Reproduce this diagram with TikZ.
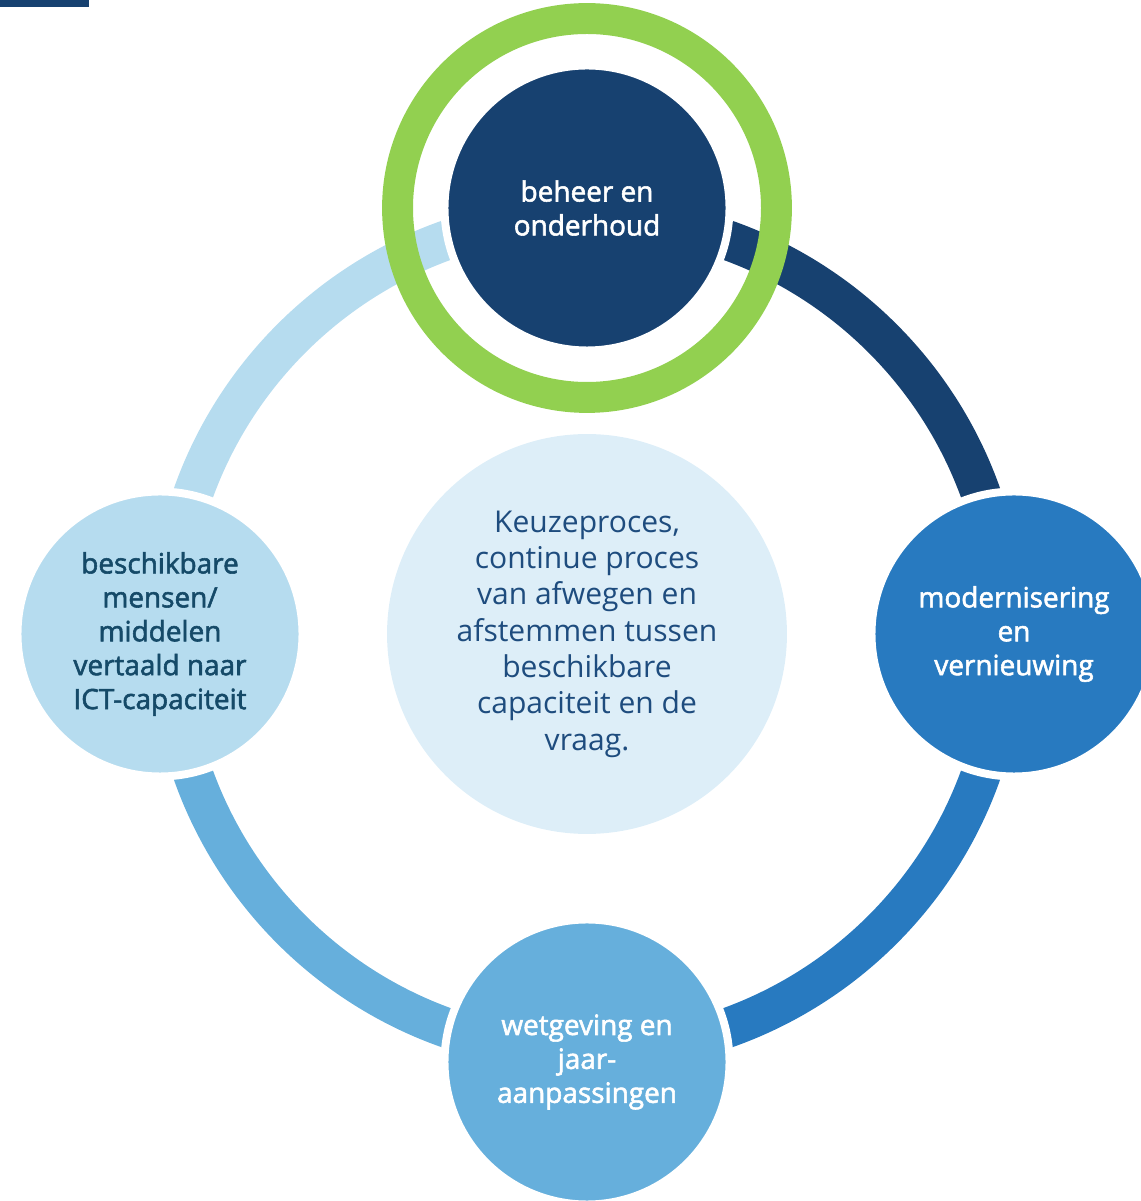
\documentclass[tikz,border=0pt]{standalone}
\usepackage{fontspec}
\setmainfont{Open Sans}
\newfontfamily\labelfont[FakeBold=2]{Open Sans}
\usepackage{tikz}
\usetikzlibrary{positioning}
\definecolor{navy}{RGB}{23,65,112}
\definecolor{midblue}{RGB}{40,122,192}
\definecolor{skyblue}{RGB}{102,175,220}
\definecolor{paleblue}{RGB}{182,220,239}
\definecolor{centreblue}{RGB}{221,238,248}
\definecolor{limegreen}{RGB}{146,208,80}
\definecolor{keuzetext}{RGB}{30,76,126}
\definecolor{mensentext}{RGB}{21,74,104}

\begin{document}
\begin{tikzpicture}[x=0.02cm, y=0.02cm,
    stage/.style={circle, minimum size=5.7cm, inner sep=0pt, draw=white, line width=4.5pt,
      align=center, text=white, font=\labelfont\fontsize{15.9}{19.3}\selectfont},
    ringarc/.style={line width=22.7pt},
    greenring/.style={circle, minimum size=7.58cm, inner sep=0pt, draw=limegreen, line width=17.6pt}]
      \clip (0,0) rectangle (1141,1201);
      \fill[navy] (0,1194) rectangle (89,1201);

      \node[circle, fill=centreblue, minimum size=8cm, inner sep=0pt, align=center, text=keuzetext,
        font=\fontsize{17.1}{20.7}\selectfont] (keuze) at (587,567)
        {Keuzeproces,\\continue proces\\van afwegen en\\afstemmen tussen\\beschikbare\\capaciteit en de\\vraag.};

      % ring between the stages
      \draw[ringarc, paleblue] (keuze.center) ++(90:418) arc[start angle=90, end angle=180, radius=418];
      \draw[ringarc, navy] (keuze.center) ++(0:418) arc[start angle=0, end angle=90, radius=418];
      \draw[ringarc, midblue] (keuze.center) ++(-90:418) arc[start angle=-90, end angle=0, radius=418];
      \draw[ringarc, skyblue] (keuze.center) ++(180:418) arc[start angle=180, end angle=270, radius=418];

      \node[greenring] (focus) at (587,993) {};

      \node[stage, fill=navy] (beheer) at (587,993) {beheer en\\onderhoud};
      \node[stage, fill=midblue] (modern) at (1014,567) {modernisering\\en\\vernieuwing};
      \node[stage, fill=skyblue] (wetgeving) at (587,139) {wetgeving en\\jaar-\\aanpassingen};
      \node[stage, fill=paleblue, text=mensentext] (mensen) at (160,567)
        {beschikbare\\mensen/\\middelen\\vertaald naar\\ICT-capaciteit};
    \end{tikzpicture}
\end{document}
